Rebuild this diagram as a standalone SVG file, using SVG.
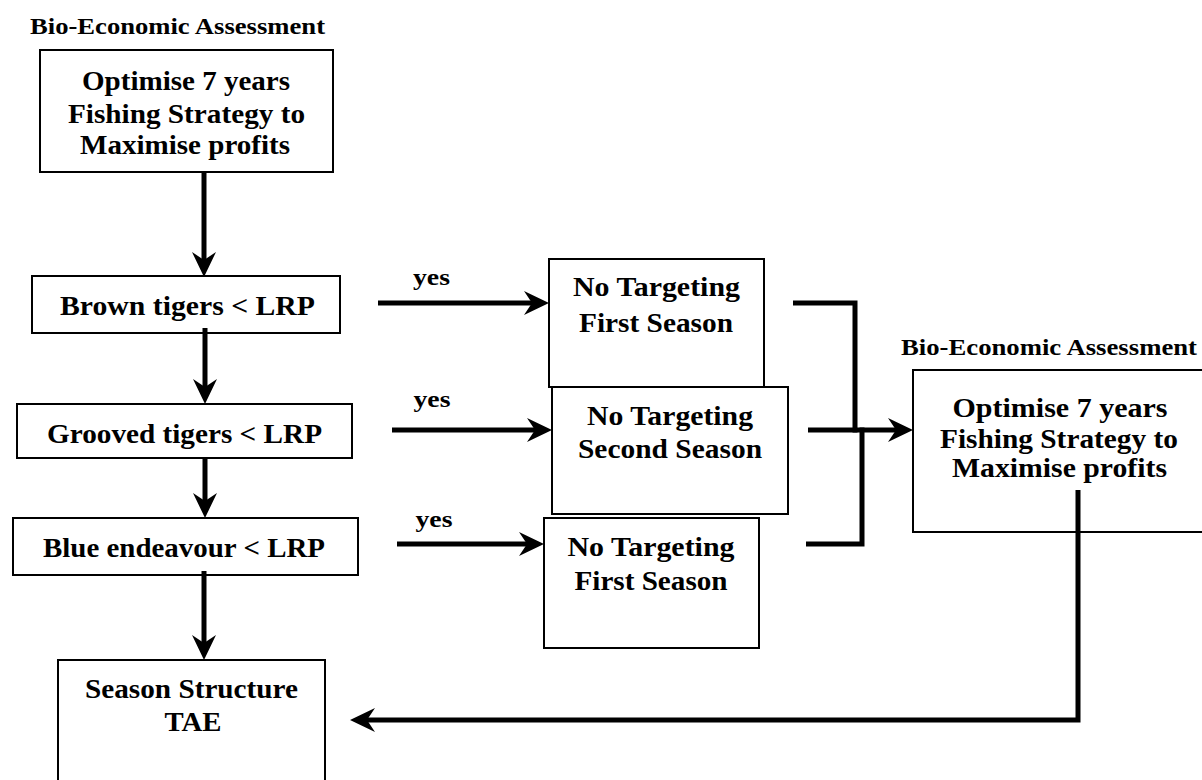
<svg xmlns="http://www.w3.org/2000/svg" width="1202" height="780" viewBox="0 0 1202 780">
<style>
  .box { fill: #fff; stroke: #000; stroke-width: 2; }
  text { font-family: 'Liberation Serif', 'Times New Roman', Times, serif; font-weight: 700; text-anchor: middle; fill: #000; }
  .t { font-size: 28px; }
  .lbl { font-size: 24px; }
  .yes { font-size: 23px; }
  .c { fill: none; stroke: #000; stroke-width: 5; }
  .ca { fill: none; stroke: #000; stroke-width: 5; marker-end: url(#ah); }
</style>
<defs>
  <marker id="ah" markerUnits="userSpaceOnUse" viewBox="0 0 25 24" refX="13" refY="12" markerWidth="25" markerHeight="24" orient="auto">
    <path d="M0,0 L25,12 L0,24 L8,12 Z" fill="#000"/>
  </marker>
</defs>
<rect width="1202" height="780" fill="#fff"/>

<g id="top-assessment" font-family="Liberation Serif, serif">
  <text class="lbl" x="177.5" y="34" textLength="295" lengthAdjust="spacingAndGlyphs">Bio-Economic Assessment</text>
  <rect class="box" x="40" y="50" width="293" height="122"/>
  <text class="t" x="186" y="90" textLength="208" lengthAdjust="spacingAndGlyphs">Optimise 7 years</text>
  <text class="t" x="186.5" y="123" textLength="237" lengthAdjust="spacingAndGlyphs">Fishing Strategy to</text>
  <text class="t" x="185" y="154" textLength="210" lengthAdjust="spacingAndGlyphs">Maximise profits</text>
</g>

<g id="brown">
  <rect class="box" x="32" y="276" width="308" height="57"/>
  <text class="t" x="187.5" y="315" textLength="255" lengthAdjust="spacingAndGlyphs">Brown tigers &lt; LRP</text>
</g>

<g id="grooved">
  <rect class="box" x="17" y="404" width="335" height="54"/>
  <text class="t" x="184.5" y="443" textLength="275" lengthAdjust="spacingAndGlyphs">Grooved tigers &lt; LRP</text>
</g>

<g id="blue">
  <rect class="box" x="13" y="518" width="345" height="57"/>
  <text class="t" x="184" y="557" textLength="282" lengthAdjust="spacingAndGlyphs">Blue endeavour &lt; LRP</text>
</g>

<g id="season">
  <rect class="box" x="58" y="660" width="267" height="140"/>
  <text class="t" x="191.5" y="698" textLength="213" lengthAdjust="spacingAndGlyphs">Season Structure</text>
  <text class="t" x="193" y="731" textLength="57" lengthAdjust="spacingAndGlyphs">TAE</text>
</g>

<g id="notarget1">
  <rect class="box" x="549" y="259" width="215" height="128"/>
  <text class="t" x="656.5" y="296" textLength="167" lengthAdjust="spacingAndGlyphs">No Targeting</text>
  <text class="t" x="656" y="332" textLength="154" lengthAdjust="spacingAndGlyphs">First Season</text>
</g>

<g id="notarget2">
  <rect class="box" x="552" y="387" width="236" height="127"/>
  <text class="t" x="670" y="425" textLength="166" lengthAdjust="spacingAndGlyphs">No Targeting</text>
  <text class="t" x="670" y="458" textLength="184" lengthAdjust="spacingAndGlyphs">Second Season</text>
</g>

<g id="notarget3">
  <rect class="box" x="544" y="518" width="215" height="130"/>
  <text class="t" x="651" y="556" textLength="167" lengthAdjust="spacingAndGlyphs">No Targeting</text>
  <text class="t" x="651" y="590" textLength="153" lengthAdjust="spacingAndGlyphs">First Season</text>
</g>

<g id="right-assessment">
  <text class="lbl" x="1049" y="355" textLength="296" lengthAdjust="spacingAndGlyphs">Bio-Economic Assessment</text>
  <rect class="box" x="913" y="370" width="300" height="162"/>
  <text class="t" x="1060" y="417" textLength="215" lengthAdjust="spacingAndGlyphs">Optimise 7 years</text>
  <text class="t" x="1059" y="448" textLength="238" lengthAdjust="spacingAndGlyphs">Fishing Strategy to</text>
  <text class="t" x="1059.5" y="477" textLength="215" lengthAdjust="spacingAndGlyphs">Maximise profits</text>
</g>

<g id="connectors">
  <line class="ca" x1="204" y1="172" x2="204" y2="265"/>
  <line class="ca" x1="205" y1="328" x2="205" y2="392"/>
  <line class="ca" x1="205" y1="458" x2="205" y2="506"/>
  <line class="ca" x1="204" y1="571" x2="204" y2="648"/>

  <line class="ca" x1="378" y1="303" x2="537" y2="303"/>
  <text class="yes" x="431.5" y="285" textLength="37" lengthAdjust="spacingAndGlyphs">yes</text>
  <line class="ca" x1="392" y1="430" x2="540" y2="430"/>
  <text class="yes" x="432" y="407" textLength="37" lengthAdjust="spacingAndGlyphs">yes</text>
  <line class="ca" x1="397" y1="544" x2="532" y2="544"/>
  <text class="yes" x="434" y="527" textLength="37" lengthAdjust="spacingAndGlyphs">yes</text>

  <polyline class="c" points="793,303 855,303 855,432.5"/>
  <polyline class="c" points="806,544 862,544 862,427.5"/>
  <line class="ca" x1="808" y1="430" x2="901" y2="430"/>

  <polyline class="ca" points="1078,490 1078,720 362,720"/>
</g>
</svg>
